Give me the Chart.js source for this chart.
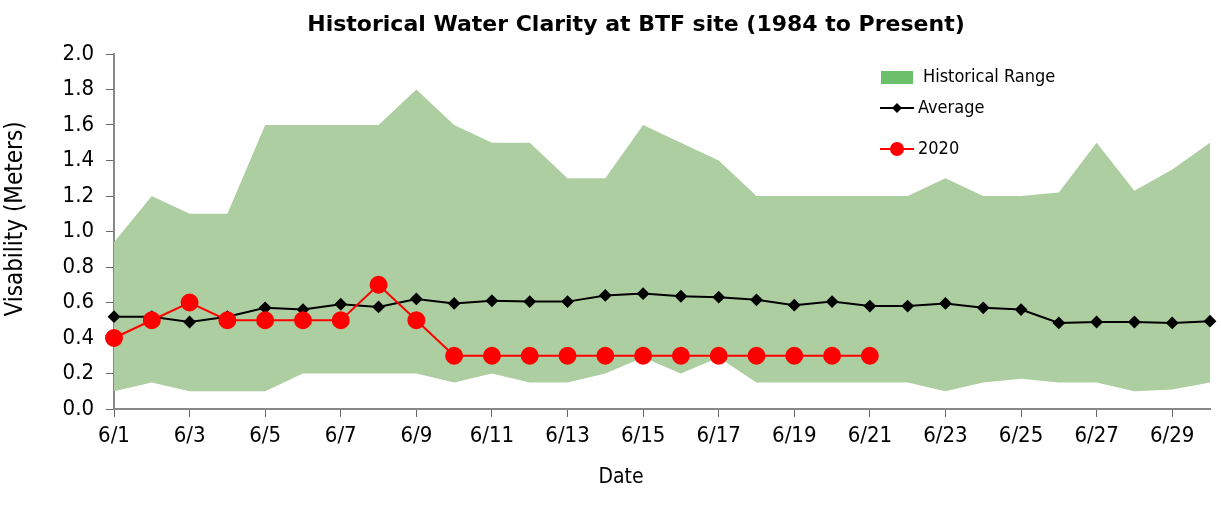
<!DOCTYPE html>
<html>
<head>
<meta charset="utf-8">
<script src="https://cdn.jsdelivr.net/npm/chart.js@4"></script>
<style>
  body { margin: 0; background: #fff; }
  #wrap { width: 1221px; height: 518px; }
</style>
</head>
<body>
<div id="wrap"><canvas id="myChart" width="1221" height="518"></canvas></div>
<script>
const dates = ['6/1','6/2','6/3','6/4','6/5','6/6','6/7','6/8','6/9','6/10',
  '6/11','6/12','6/13','6/14','6/15','6/16','6/17','6/18','6/19','6/20',
  '6/21','6/22','6/23','6/24','6/25','6/26','6/27','6/28','6/29','6/30'];
const rangeHigh = [0.94,1.20,1.10,1.10,1.60,1.60,1.60,1.60,1.80,1.60,
  1.50,1.50,1.30,1.30,1.60,1.50,1.40,1.20,1.20,1.20,
  1.20,1.20,1.30,1.20,1.20,1.22,1.50,1.23,1.35,1.50];
const rangeLow = [0.10,0.15,0.10,0.10,0.10,0.20,0.20,0.20,0.20,0.15,
  0.20,0.15,0.15,0.20,0.29,0.20,0.29,0.15,0.15,0.15,
  0.15,0.15,0.10,0.15,0.17,0.15,0.15,0.10,0.11,0.15];
const average = [0.52,0.52,0.49,0.52,0.57,0.56,0.59,0.575,0.62,0.595,
  0.61,0.605,0.605,0.64,0.65,0.635,0.63,0.615,0.585,0.605,
  0.58,0.58,0.595,0.57,0.56,0.485,0.49,0.49,0.485,0.495];
const year2020 = [0.4,0.5,0.6,0.5,0.5,0.5,0.5,0.7,0.5,0.3,
  0.3,0.3,0.3,0.3,0.3,0.3,0.3,0.3,0.3,0.3,
  0.3,null,null,null,null,null,null,null,null,null];
const yTicks = [0,0.2,0.4,0.6,0.8,1.0,1.2,1.4,1.6,1.8,2.0];

const FONT = "'DejaVu Sans Condensed', 'DejaVu Sans', sans-serif";
Chart.defaults.font.family = FONT;
Chart.defaults.color = 'black';

// title, axis titles and the legend box in the plot
const extras = {
  id: 'extras',
  afterDraw(chart) {
    const c = chart.ctx;
    c.save();
    c.fillStyle = 'black';
    c.textBaseline = 'middle';
    c.textAlign = 'center';
    c.font = "bold 22px 'DejaVu Sans', sans-serif";
    c.fillText('Historical Water Clarity at BTF site (1984 to Present)', 636, 25);
    c.font = '21px ' + FONT;
    c.fillText('Date', 621, 478);
    c.save();
    c.translate(16, 219);
    c.rotate(-Math.PI / 2);
    c.font = '24px ' + FONT;
    c.fillText('Visability (Meters)', 0, 0);
    c.restore();

    c.textAlign = 'left';
    c.font = '18px ' + FONT;
    // Historical Range
    c.fillStyle = '#6dc06b';
    c.fillRect(881, 71, 32, 13);
    c.fillStyle = 'black';
    c.fillText('Historical Range', 923, 77);
    // Average
    c.strokeStyle = 'black';
    c.lineWidth = 2;
    c.beginPath(); c.moveTo(880, 108); c.lineTo(914, 108); c.stroke();
    c.beginPath();
    c.moveTo(897, 103); c.lineTo(902, 108); c.lineTo(897, 113); c.lineTo(892, 108);
    c.closePath(); c.fill();
    c.fillText('Average', 918, 108);
    // 2020
    c.strokeStyle = 'red';
    c.fillStyle = 'red';
    c.beginPath(); c.moveTo(880, 149); c.lineTo(914, 149); c.stroke();
    c.beginPath(); c.arc(897, 149, 7, 0, Math.PI * 2); c.fill();
    c.fillStyle = 'black';
    c.fillText('2020', 918, 149);
    c.restore();
  }
};

let myChart = document.getElementById('myChart').getContext('2d');
new Chart(myChart, {
  type: 'line',
  data: {
    labels: dates,
    datasets: [
      {
        label: 'Historical Range',
        data: rangeHigh,
        borderWidth: 0,
        pointRadius: 0,
        backgroundColor: '#adcea0',
        fill: '+1',
        order: 3
      },
      {
        label: 'low',
        data: rangeLow,
        borderWidth: 0,
        pointRadius: 0,
        backgroundColor: '#adcea0',
        fill: false,
        order: 3
      },
      {
        label: 'Average',
        data: average,
        borderColor: 'black',
        backgroundColor: 'black',
        borderWidth: 2,
        pointStyle: 'rectRot',
        pointRadius: 5,
        fill: false,
        order: 2
      },
      {
        label: '2020',
        data: year2020,
        borderColor: 'red',
        backgroundColor: 'red',
        borderWidth: 2,
        pointRadius: 8,
        fill: false,
        order: 1
      }
    ]
  },
  options: {
    responsive: false,
    animation: false,
    layout: { padding: { left: 0, right: 11, top: 54, bottom: 0 } },
    plugins: {
      legend: { display: false },
      title: { display: false },
      tooltip: { enabled: false }
    },
    scales: {
      x: {
        offset: false,
        border: { color: '#888', width: 2 },
        grid: { drawOnChartArea: false, drawTicks: true, tickLength: 8, color: '#666' },
        ticks: {
          autoSkip: false,
          maxRotation: 0,
          padding: 6,
          font: { size: 22 },
          callback: function(v, i) { return i % 2 === 0 ? dates[i] : null; }
        },
        afterFit(scale) { scale.height = 109; }
      },
      y: {
        min: 0,
        max: 2,
        border: { color: '#888', width: 2 },
        grid: { drawOnChartArea: false, drawTicks: true, tickLength: 8, color: '#666' },
        afterBuildTicks(scale) { scale.ticks = yTicks.map(v => ({ value: v })); },
        ticks: {
          padding: 12,
          font: { size: 22 },
          callback: v => v.toFixed(1)
        },
        afterFit(scale) { scale.width = 114; }
      }
    }
  },
  plugins: [extras]
});
</script>
</body>
</html>
